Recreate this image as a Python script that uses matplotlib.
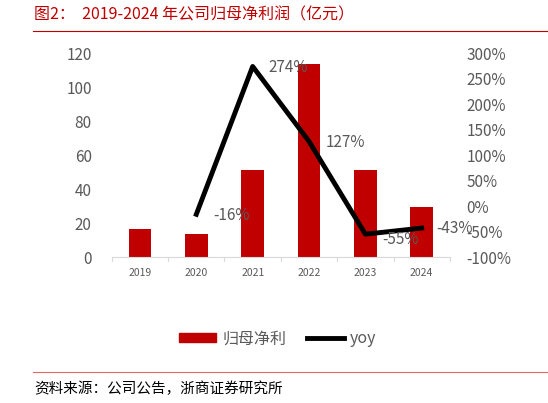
import matplotlib
matplotlib.use("Agg")
import matplotlib.pyplot as plt
from matplotlib.lines import Line2D
from matplotlib.patches import Patch

plt.rcParams["font.family"] = ["Noto Sans CJK SC", "DejaVu Sans"]

years = ["2019", "2020", "2021", "2022", "2023", "2024"]
profit = [16.3, 13.7, 51.2, 113.5, 51.4, 29.4]
yoy = [None, -16, 274, 127, -55, -43]
yoy_labels = ["", "-16%", "274%", "127%", "-55%", "-43%"]

red = "#C00000"
grey = "#595959"

fig = plt.figure(figsize=(5.48, 4.03), dpi=100)
ax = fig.add_axes([0.204, 0.362, 0.617, 0.506])
ax2 = ax.twinx()

x = list(range(len(years)))
ax.bar(x, profit, width=0.4, color=red, zorder=2)
ax.set_xlim(-0.5, len(years) - 0.5)
ax.set_ylim(0, 120)
ax.set_yticks(range(0, 121, 20))
ax.set_xticks(x)
ax.set_xticklabels(years, fontsize=7.5, color=grey)
ax.tick_params(axis="x", length=0, pad=8)
ax.tick_params(axis="y", length=0, labelsize=11, colors=grey, pad=14.5)
for s in ["top", "right", "left"]:
    ax.spines[s].set_visible(False)
ax.spines["bottom"].set_color("#d9d9d9")
for b in range(len(years) + 1):
    ax.plot([b - 0.5, b - 0.5], [0, -2.5], color="#d9d9d9", lw=0.8, clip_on=False)

xs = [i for i, v in enumerate(yoy) if v is not None]
ys = [v for v in yoy if v is not None]
ax2.plot(xs, ys, color="black", lw=3.5, zorder=3)
ax2.set_ylim(-100, 300)
ax2.set_yticks(range(-100, 301, 50))
ax2.set_yticklabels([f"{v}%" for v in range(-100, 301, 50)])
ax2.tick_params(axis="y", length=0, labelsize=11, colors=grey, pad=12)
for s in ["top", "right", "left", "bottom"]:
    ax2.spines[s].set_visible(False)

offsets = {1: (0.3, -3), 2: (0.28, -3), 3: (0.3, -3), 4: (0.3, -10), 5: (0.25, 0)}
for i, v in enumerate(yoy):
    if v is None:
        continue
    dx, dy = offsets[i]
    ax2.text(i + dx, v + dy, yoy_labels[i], fontsize=11, color=grey,
             ha="left", va="center")

handles = [Patch(color=red), Line2D([0], [0], color="black", lw=3.5)]
fig.legend(handles, ["归母净利", "yoy"], loc="center", bbox_to_anchor=(0.507, 0.159),
           ncol=2, frameon=False, fontsize=11.5, labelcolor=grey,
           handlelength=2.3, handleheight=0.5, columnspacing=1.3, handletextpad=0.4)

fig.text(0.062, 0.963, "图2：  2019-2024 年公司归母净利润（亿元）", fontsize=11.5,
         color=red, ha="left", va="center")
fig.add_artist(Line2D([0.06, 1.0], [0.923, 0.923], color=red, lw=0.8))
fig.add_artist(Line2D([0.06, 1.0], [0.078, 0.078], color="#e06666", lw=0.8))
fig.text(0.062, 0.036, "资料来源：公司公告，浙商证券研究所", fontsize=10.5,
         color="black", ha="left", va="center")

fig.savefig("out.png", dpi=100)
